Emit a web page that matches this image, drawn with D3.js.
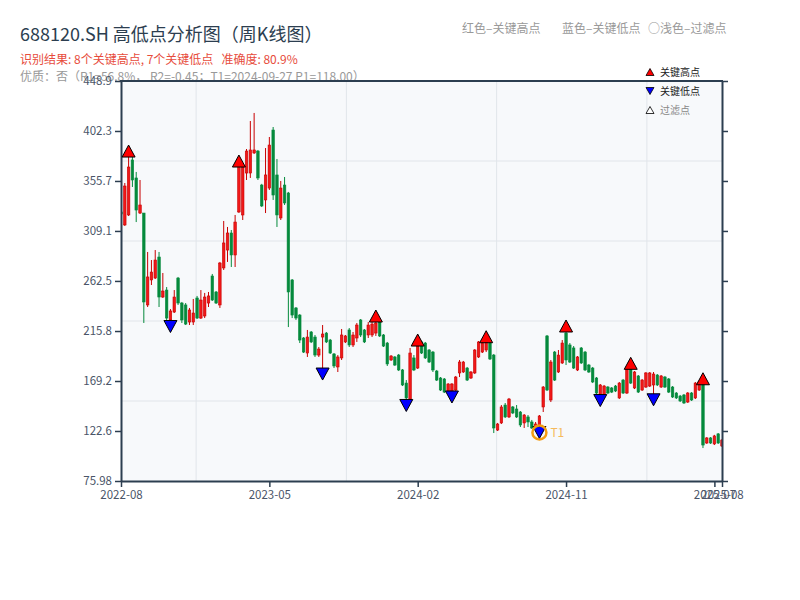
<!DOCTYPE html>
<html>
<head>
<meta charset="utf-8">
<script src="https://cdn.jsdelivr.net/npm/d3@7/dist/d3.min.js"></script>
<style>
  body { margin: 0; background: #fff; }
  text { font-family: "Noto Sans CJK SC", "Noto Sans", sans-serif; }
</style>
</head>
<body>
<svg width="800" height="600"></svg>
<script>
// weekly candles, 688120.SH
const openP = [326.8,314.7,324.0,375.3,358.5,325.8,325.8,240.1,263.4,265.2,
  284.8,247.5,254.0,226.1,233.5,265.2,241.9,240.1,224.2,224.2,
  246.6,227.9,229.8,241.9,267.1,252.2,240.1,274.6,291.3,307.2,
  286.7,326.8,324.0,363.1,363.1,381.8,383.6,351.9,338.0,349.1,
  403.2,361.3,321.2,351.9,344.5,263.4,237.3,230.7,209.3,195.3,
  214.9,210.2,193.4,210.2,213.9,207.4,194.4,182.3,190.7,205.6,
  216.8,202.8,209.3,226.1,216.8,212.1,212.1,213.9,224.2,212.1,
  204.6,188.8,191.6,193.4,179.5,167.3,150.6,190.7,181.3,205.6,
  204.6,198.1,196.2,178.5,172.0,171.1,158.9,159.9,160.8,176.7,
  177.6,181.3,172.0,176.7,191.6,196.2,198.1,204.6,193.4,123.5,
  130.1,146.8,135.7,145.0,143.1,140.3,130.1,135.7,131.0,126.3,
  127.3,145.0,211.2,151.5,196.2,177.6,186.0,213.9,202.8,200.0,
  179.5,200.0,196.2,184.1,181.3,172.0,153.4,156.2,163.6,162.7,
  164.5,153.4,170.1,158.0,181.3,162.7,173.9,160.8,163.6,164.5,
  165.5,174.8,163.6,172.9,171.1,163.6,158.0,155.2,156.2,149.6,
  158.0,153.4,160.8,166.4,111.4,116.1,110.5,119.9,108.6];

const highP = [328.6,353.8,383.6,378.1,364.1,356.6,325.8,289.5,282.0,291.3,
  289.5,269.9,256.8,236.3,254.0,266.2,242.9,241.9,237.3,245.7,
  248.5,254.0,251.3,252.2,269.0,253.1,280.2,318.4,312.8,310.0,
  324.0,374.3,372.4,385.5,411.6,419.1,384.6,353.0,386.4,396.7,
  406.0,376.2,355.7,359.4,345.5,264.3,238.2,231.6,210.2,216.8,
  215.8,212.1,200.9,221.4,214.9,208.4,195.3,193.4,217.7,212.1,
  218.6,214.9,223.3,227.0,217.7,224.2,224.2,229.8,226.1,213.0,
  205.6,193.4,192.5,194.4,180.4,170.1,200.0,193.4,207.4,206.5,
  205.6,199.0,197.2,179.5,172.9,172.0,167.3,167.3,173.9,188.8,
  187.9,182.3,178.5,199.0,206.5,205.6,210.5,206.5,194.4,130.1,
  146.8,148.7,153.4,145.9,146.8,141.2,138.4,137.5,132.9,131.0,
  137.5,164.5,212.1,188.8,197.2,198.1,207.4,220.5,204.6,201.8,
  192.5,200.9,197.2,185.1,182.3,172.9,166.4,165.5,164.5,163.6,
  165.5,168.3,171.1,182.3,185.7,178.5,174.8,171.1,177.6,177.6,
  177.6,175.7,174.8,173.9,172.0,164.5,158.9,156.2,157.1,158.9,
  158.9,168.3,169.2,171.3,117.0,117.0,119.0,120.7,115.1];

const lowP = [323.0,313.7,323.0,350.1,317.4,324.9,223.3,238.2,258.7,264.3,
  238.2,246.6,226.1,220.0,232.6,240.1,223.3,221.4,221.4,221.4,
  227.0,227.0,227.9,238.2,243.8,241.0,237.3,272.7,280.2,275.5,
  275.5,325.8,319.3,356.6,358.5,380.9,356.6,331.4,325.8,347.3,
  338.0,312.8,319.3,333.3,219.5,227.9,226.1,204.6,195.3,191.6,
  204.6,191.6,191.6,175.7,204.6,194.4,181.3,177.6,188.8,204.6,
  200.9,200.9,205.6,210.2,204.6,209.3,210.2,211.2,210.2,200.9,
  183.2,187.9,183.2,178.5,164.5,146.4,148.7,178.5,180.4,194.4,
  189.7,186.0,177.6,169.2,159.9,158.0,158.0,154.3,159.9,172.9,
  176.7,169.2,171.1,175.7,190.7,195.3,196.2,188.8,120.7,122.6,
  129.1,134.7,134.7,138.4,134.7,126.3,125.4,126.3,124.5,125.4,
  118.0,140.3,159.9,149.6,169.2,176.7,185.1,184.1,186.0,180.4,
  178.5,185.1,178.5,176.7,167.3,157.1,151.0,155.2,157.1,158.0,
  158.9,152.4,157.1,157.1,166.4,161.7,158.0,159.9,162.7,163.6,
  151.7,164.5,162.7,162.7,158.0,153.4,152.4,149.6,147.8,148.7,
  150.6,152.4,159.9,106.7,110.5,110.5,109.5,110.5,107.7];

const closeP = [324.9,351.0,368.7,356.6,328.6,333.3,242.9,266.2,270.8,282.0,
  247.5,253.1,227.9,234.5,247.5,241.9,226.1,222.3,235.4,232.6,
  227.9,244.7,247.5,248.5,244.7,241.9,279.2,297.9,307.2,286.7,
  317.4,370.6,368.7,383.6,384.6,384.6,358.5,332.4,361.3,389.2,
  342.6,324.0,349.1,335.2,252.2,230.7,227.9,207.4,196.2,210.2,
  205.6,193.4,199.0,213.0,205.6,195.3,183.2,191.6,212.1,211.2,
  202.8,212.1,221.4,212.1,205.6,221.4,222.3,223.3,211.2,201.8,
  185.1,192.5,184.1,179.5,165.5,153.4,195.3,179.5,201.8,195.3,
  190.7,186.9,179.5,170.1,160.8,158.9,166.4,166.4,172.9,186.9,
  186.9,170.1,177.6,198.1,205.6,204.6,207.4,189.7,125.4,129.1,
  145.0,135.7,152.4,139.4,135.7,128.2,137.5,131.0,125.4,129.1,
  136.6,163.6,160.8,186.9,170.1,193.4,204.6,188.8,186.9,181.3,
  191.6,186.0,179.5,177.6,168.3,158.0,165.5,164.5,158.0,158.9,
  159.9,167.3,158.0,181.3,167.3,177.6,158.9,170.1,176.7,176.7,
  175.7,165.5,173.9,163.6,158.9,154.3,153.4,150.6,148.7,158.0,
  151.5,167.3,168.3,109.5,116.1,111.4,118.0,111.4,114.2];

// key points (candle index + price)
const keyHighIdx = [2, 31, 67, 78, 96, 117, 134, 153];
const keyHighVal = [383.6, 374.3, 229.8, 207.4, 210.5, 220.5, 185.7, 171.3];
const keyLowIdx = [13, 53, 75, 87, 110, 126, 140];
const keyLowVal = [220.0, 175.7, 146.4, 154.3, 121.2, 151.0, 151.7];
const t1Idx = 110;
const t1Val = 121.2;

// axes
const xTickIdx = [0, 39, 78, 117, 156, 158];
const xTickLabels = ['2022-08', '2023-05', '2024-02', '2024-11', '2025-07', '2025-08'];
const yTicks = [75.98, 122.6, 169.2, 215.8, 262.5, 309.1, 355.7, 402.3, 448.9];
const yTickLabels = ['75.98', '122.6', '169.2', '215.8', '262.5', '309.1', '355.7', '402.3', '448.9'];

const svg = d3.select('svg');
const plotL = 121, plotR = 722, plotT = 81, plotB = 481;
const axisColor = '#2c3e50';

const data = openP.map((o, i) => ({i: i, o: o, h: highP[i], l: lowP[i], c: closeP[i]}));

const x = d3.scaleLinear().domain([0, data.length - 1]).range([plotL, plotR]);
const y = d3.scaleLinear().domain([yTicks[0], yTicks[yTicks.length - 1]]).range([plotB, plotT]);

// header texts
svg.append('text').attr('x', 20).attr('y', 41)
  .attr('font-size', 18).attr('fill', '#2c3e50')
  .text('688120.SH 高低点分析图（周K线图）');
svg.append('text').attr('x', 20).attr('y', 64)
  .attr('font-size', 12).attr('fill', '#e74c3c')
  .text('识别结果: 8个关键高点, 7个关键低点\u00a0\u00a0\u00a0准确度: 80.9%');
svg.append('text').attr('x', 20).attr('y', 81)
  .attr('font-size', 12).attr('fill', '#999')
  .text('优质：否（R1=56.8%，\u00a0R2=-0.45；T1=2024-09-27 P1=118.00）');

const legendTop = [['红色–关键高点', 462], ['蓝色–关键低点', 562], ['○浅色–过滤点', 648]];
legendTop.forEach(d => {
  svg.append('text').attr('x', d[1]).attr('y', 33)
    .attr('font-size', 12).attr('fill', '#999').text(d[0]);
});

// plot area
svg.append('rect').attr('x', plotL).attr('y', plotT)
  .attr('width', plotR - plotL).attr('height', plotB - plotT)
  .attr('fill', '#f7f9fb');

const grid = svg.append('g');
[1, 3, 5, 7].forEach(k => {
  const gx = x(x.domain()[1] * k / 8);
  grid.append('line').attr('x1', gx).attr('x2', gx).attr('y1', plotT).attr('y2', plotB)
    .attr('stroke', '#e1e5ea').attr('stroke-width', 1);
});
[1, 2, 3, 4].forEach(k => {
  const gy = plotT + (plotB - plotT) * k / 5;
  grid.append('line').attr('x1', plotL).attr('x2', plotR).attr('y1', gy).attr('y2', gy)
    .attr('stroke', '#e1e5ea').attr('stroke-width', 1);
});

svg.append('clipPath').attr('id', 'plotClip')
  .append('rect').attr('x', plotL).attr('y', plotT)
  .attr('width', plotR - plotL).attr('height', plotB - plotT);

function drawCandles() {
  const g = svg.append('g').attr('clip-path', 'url(#plotClip)');
  const bw = (x(1) - x(0)) * 0.66;
  const up = '#f01818', upEdge = '#c80000', down = '#058a3c';

  g.selectAll('line.wick').data(data).enter().append('line')
    .attr('x1', d => x(d.i)).attr('x2', d => x(d.i))
    .attr('y1', d => y(d.h)).attr('y2', d => y(d.l))
    .attr('stroke', d => d.c >= d.o ? upEdge : down)
    .attr('stroke-width', 1);

  g.selectAll('rect.body').data(data).enter().append('rect')
    .attr('x', d => x(d.i) - bw / 2)
    .attr('y', d => y(Math.max(d.o, d.c)))
    .attr('width', bw)
    .attr('height', d => Math.max(1, Math.abs(y(d.o) - y(d.c))))
    .attr('fill', d => d.c >= d.o ? up : down)
    .attr('stroke', d => d.c >= d.o ? upEdge : down)
    .attr('stroke-width', 0.6);
}

function triangle(cx, cy, w, h, pointUp) {
  const p = d3.path();
  if (pointUp) {
    p.moveTo(cx, cy - h / 2); p.lineTo(cx + w / 2, cy + h / 2); p.lineTo(cx - w / 2, cy + h / 2);
  } else {
    p.moveTo(cx, cy + h / 2); p.lineTo(cx + w / 2, cy - h / 2); p.lineTo(cx - w / 2, cy - h / 2);
  }
  p.closePath();
  return p.toString();
}

function drawAxes() {
  const styleAxis = (g) => {
    g.select('.domain').attr('stroke', axisColor).attr('stroke-width', 2);
    g.selectAll('.tick line').attr('stroke', axisColor).attr('stroke-width', 1.5);
    g.selectAll('.tick text').attr('fill', '#4a5568').attr('font-size', 11.5)
      .attr('font-family', '"Noto Sans CJK SC", "Noto Sans", sans-serif');
  };

  svg.append('g').attr('transform', `translate(${plotL},0)`)
    .call(d3.axisLeft(y).tickValues(yTicks).tickFormat((d, i) => yTickLabels[i])
      .tickSize(6).tickSizeOuter(0).tickPadding(3))
    .call(styleAxis);

  svg.append('g').attr('transform', `translate(${plotR},0)`)
    .call(d3.axisRight(y).tickValues(yTicks).tickFormat('')
      .tickSize(6).tickSizeOuter(0))
    .call(styleAxis);

  svg.append('g').attr('transform', `translate(0,${plotB})`)
    .call(d3.axisBottom(x).tickValues(xTickIdx).tickFormat((d, i) => xTickLabels[i])
      .tickSize(6).tickSizeOuter(0).tickPadding(4))
    .call(styleAxis);

  // top border
  svg.append('line').attr('x1', plotL - 1).attr('x2', plotR + 1).attr('y1', plotT).attr('y2', plotT)
    .attr('stroke', axisColor).attr('stroke-width', 2);
}

function drawMarkers() {
  const g = svg.append('g');
  keyHighIdx.forEach((idx, k) => {
    g.append('path').attr('d', triangle(x(idx), y(keyHighVal[k]), 13, 12, true))
      .attr('fill', '#ff0000').attr('stroke', '#000').attr('stroke-width', 1);
  });
  keyLowIdx.forEach((idx, k) => {
    g.append('path').attr('d', triangle(x(idx), y(keyLowVal[k]), 13, 12, false))
      .attr('fill', '#0000ff').attr('stroke', '#000').attr('stroke-width', 1);
  });

  // T1 highlight
  g.append('circle').attr('cx', x(t1Idx)).attr('cy', y(t1Val)).attr('r', 7)
    .attr('fill', 'none').attr('stroke', '#f39c12').attr('stroke-width', 2.5);
  g.append('text').attr('x', x(t1Idx) + 11).attr('y', y(t1Val) + 5)
    .attr('font-size', 12).attr('fill', '#f5b041').attr('opacity', 0.85).text('T1');
}

function drawLegend() {
  const g = svg.append('g');
  const items = [
    {label: '关键高点', fill: '#ff0000', up: true, color: '#222', y: 72},
    {label: '关键低点', fill: '#0000ff', up: false, color: '#222', y: 91},
    {label: '过滤点', fill: '#ffffff', up: true, color: '#888', y: 110}
  ];
  items.forEach(d => {
    g.append('path').attr('d', triangle(650, d.y, 8, 7, d.up))
      .attr('fill', d.fill).attr('stroke', '#000').attr('stroke-width', 0.8);
    g.append('text').attr('x', 660).attr('y', d.y + 3.5)
      .attr('font-size', 10).attr('fill', d.color).text(d.label);
  });
}

drawCandles();
drawAxes();
drawMarkers();
drawLegend();
</script>
</body>
</html>
